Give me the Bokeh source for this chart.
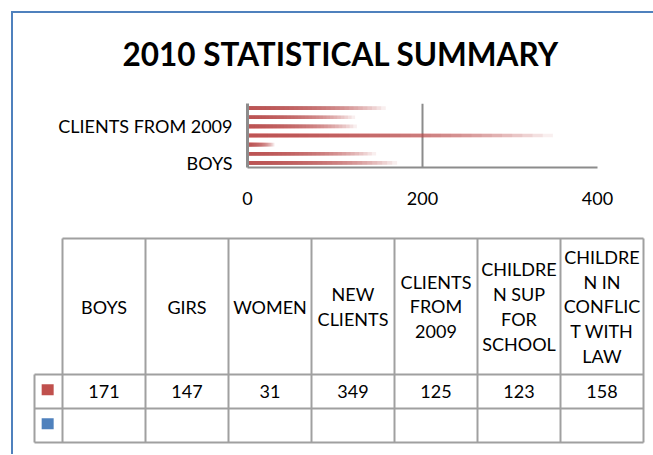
from bokeh.plotting import figure
from bokeh.layouts import column
from bokeh.models import Range1d, FixedTicker, Title
from bokeh.core.properties import value
from bokeh.embed import file_html
from bokeh.resources import INLINE

# ---------------- data ----------------
categories = ["BOYS", "GIRS", "WOMEN", "NEW CLIENTS", "CLIENTS FROM 2009",
              "CHILDREN SUP FOR SCHOOL", "CHILDREN IN CONFLICT WITH LAW"]
values = [171, 147, 31, 349, 125, 123, 158]
header_labels = ["BOYS", "GIRS", "WOMEN", "NEW\nCLIENTS", "CLIENTS\nFROM\n2009",
                 "CHILDRE\nN SUP\nFOR\nSCHOOL", "CHILDRE\nN IN\nCONFLIC\nT WITH\nLAW"]
shown_y_labels = [0, 4]          # Excel shows every 4th category label
x_ticks = [0, 200, 400]
title_text = "2010 STATISTICAL SUMMARY"

RED = "#C0504D"
BLUE = "#4F81BD"
GRID = "#8C8C8C"
TLINE = "#A0A0A0"
FONT = "Lato"

# ---------------- chart ----------------
W = 640
HA = 217
pA = figure(width=W, height=HA, output_backend="svg", toolbar_location=None,
            x_range=Range1d(0, 400), y_range=Range1d(0, len(categories)),
            min_border_left=234, min_border_right=56, min_border_top=90,
            min_border_bottom=63)
pA.frame_align = False
pA.outline_line_color = None
pA.background_fill_color = "white"
pA.border_fill_color = "white"

# gradient-like bars: overlapping translucent bars from zero
N = 30
ys, rights = [], []
for i, v in enumerate(values):
    for k in range(N):
        ys.append(i + 0.5)
        rights.append(v * (N - k) / N)
pA.hbar(y=ys, left=0, right=rights, height=0.4, fill_color=RED,
        fill_alpha=0.09, line_color=None)

pA.xaxis.ticker = FixedTicker(ticks=x_ticks)
pA.xaxis.major_tick_line_color = None
pA.xaxis.minor_tick_line_color = None
pA.xaxis.axis_line_color = GRID
pA.xaxis.axis_line_width = 2
pA.xaxis.major_label_standoff = 18
pA.xaxis.major_label_text_font = FONT
pA.xaxis.major_label_text_font_size = "18px"
pA.xaxis.major_label_text_color = "#000000"

pA.yaxis.ticker = FixedTicker(ticks=[i + 0.5 for i in shown_y_labels])
pA.yaxis.major_label_overrides = {i + 0.5: categories[i] for i in shown_y_labels}
pA.yaxis.major_tick_line_color = None
pA.yaxis.minor_tick_line_color = None
pA.yaxis.axis_line_color = GRID
pA.yaxis.axis_line_width = 3
pA.yaxis.major_label_standoff = 9
pA.yaxis.major_label_text_font = FONT
pA.yaxis.major_label_text_font_size = "18px"
pA.yaxis.major_label_text_color = "#000000"

pA.xgrid.ticker = FixedTicker(ticks=x_ticks)
pA.xgrid.grid_line_color = GRID
pA.xgrid.grid_line_width = 2
pA.ygrid.grid_line_color = None

# title; the trailing empty line lifts the title inside the fixed top border
pA.title = Title(text=title_text + "\n", align="left", offset=-125, standoff=0,
                 text_font=FONT, text_font_size="31.5px", text_font_style="bold",
                 text_color="#000000", text_line_height=0.81)

# ---------------- data table ----------------
HB = 224
CANVAS_X0 = 13          # page x of canvases
CANVAS_YB = 230         # page y of table canvas top
TAB_X = 62              # page x of first data column
COL_W = 83
KEY_W = 28
HEAD_BOTTOM = 374       # page y of header bottom
ROW_H = 34
HEAD_H = 136

u0 = (CANVAS_X0 - TAB_X) / COL_W
u1 = (CANVAS_X0 + W - TAB_X) / COL_W
v_top = (CANVAS_YB - HEAD_BOTTOM) / ROW_H
v_bot = (CANVAS_YB + HB - HEAD_BOTTOM) / ROW_H

pB = figure(width=W, height=HB, output_backend="svg", toolbar_location=None,
            x_range=Range1d(u0, u1), y_range=Range1d(v_bot, v_top),
            min_border=0, x_axis_type=None, y_axis_type=None)
pB.frame_align = False
pB.outline_line_color = None
pB.xgrid.grid_line_color = None
pB.ygrid.grid_line_color = None
pB.border_fill_color = "white"

n = len(categories)
k = KEY_W / COL_W
h = HEAD_H / ROW_H
# horizontal lines
xs0 = [0, -k, -k, -k]
xs1 = [n, n, n, n]
yh = [-h, 0, 1, 2]
pB.segment(x0=xs0, y0=yh, x1=xs1, y1=yh, line_color=TLINE, line_width=2)
# vertical lines
vx = [-k] + list(range(n + 1))
vy0 = [0] + [-h] * (n + 1)
vy1 = [2] * (n + 2)
pB.segment(x0=vx, y0=vy0, x1=vx, y1=vy1, line_color=TLINE, line_width=2)

# header texts
pB.text(x=[i + 0.5 for i in range(n)], y=[-h / 2] * n, text=header_labels,
        text_align="center", text_baseline="middle", text_font=value(FONT),
        text_font_size="18px", text_color="#000000", text_line_height=1.13)
# values
pB.text(x=[i + 0.5 for i in range(n)], y=[0.5] * n, text=[str(v) for v in values],
        text_align="center", text_baseline="middle", text_font=value(FONT),
        text_font_size="18px", text_color="#000000")
# legend keys
pB.rect(x=[-k / 2 - 0.01, -k / 2 - 0.01], y=[0.45, 1.45], width=12, height=11,
        width_units="screen", height_units="screen",
        fill_color=[RED, BLUE], line_color=None)

layout = column(pA, pB, spacing=0, margin=(11, 0, 0, 11),
                styles={"border-left": "2px solid " + BLUE,
                        "border-top": "2px solid " + BLUE})

open("out.html", "w").write(file_html(layout, INLINE))
